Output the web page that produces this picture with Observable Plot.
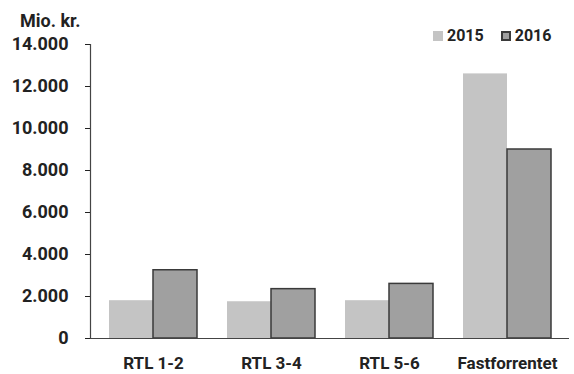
<!DOCTYPE html>
<html>
<head>
<meta charset="utf-8">
<script src="https://cdn.jsdelivr.net/npm/d3@7"></script>
<script src="https://cdn.jsdelivr.net/npm/@observablehq/plot@0.6"></script>
<style>
  html, body { margin: 0; padding: 0; background: #fff; }
  #chart { position: relative; width: 574px; height: 374px; font-family: Roboto, "Noto Sans", sans-serif; }
  #chart svg { display: block; }
  .unit { position: absolute; top: 10px; left: 20px; font-weight: 700; font-size: 18px; color: #222; }
  .legend { position: absolute; top: 26px; left: 433px; display: flex; align-items: center; font-weight: 700; font-size: 16px; color: #222; }
  .legend .item { display: flex; align-items: center; margin-right: 17px; }
  .legend .item:last-child { margin-right: 0; }
  .legend .sw { width: 10px; height: 10px; margin-right: 4px; box-sizing: border-box; }
</style>
</head>
<body>
<div id="chart"></div>
<script>
// Mio. kr. per rentetilpasningsgruppe, 2015 og 2016
const categories = ["RTL 1-2", "RTL 3-4", "RTL 5-6", "Fastforrentet"];
const years = ["2015", "2016"];
const values2015 = [1800, 1750, 1800, 12600];
const values2016 = [3250, 2350, 2600, 9000];
const yTicks = [0, 2000, 4000, 6000, 8000, 10000, 12000, 14000];
const unitLabel = "Mio. kr.";

const fill = {"2015": "#c4c4c4", "2016": "#a0a0a0"};
const stroke = {"2015": "none", "2016": "#3a3a3a"};

const rows = categories.flatMap((c, i) => [
  {category: c, year: "2015", value: values2015[i]},
  {category: c, year: "2016", value: values2016[i]}
]);

const daFormat = d3.formatLocale({decimal: ",", thousands: ".", grouping: [3], currency: ["", " kr."]}).format(",d");

const half = 44; // each bar takes half of the group band

const plot = Plot.plot({
  width: 574,
  height: 374,
  marginLeft: 90,
  marginRight: 5,
  marginTop: 44,
  marginBottom: 36,
  style: {fontFamily: "Roboto, sans-serif", fontSize: "18px", fontWeight: 700, color: "#222", background: "#fff"},
  x: {domain: categories, paddingInner: 0.257, paddingOuter: 0.149, axis: null},
  y: {domain: [0, 14000], axis: null},
  marks: [
    Plot.barY(rows.filter(d => d.year === "2015"), {x: "category", y: "value", fill: fill["2015"], insetRight: half}),
    Plot.barY(rows.filter(d => d.year === "2016"), {x: "category", y: "value", fill: fill["2016"], stroke: stroke["2016"], strokeWidth: 1.5, insetLeft: half}),
    Plot.ruleY([0], {stroke: "#444", strokeWidth: 1.2}),
    Plot.frame({anchor: "left", stroke: "#444", strokeWidth: 1.2}),
    Plot.axisY({ticks: yTicks, tickFormat: daFormat, tickSize: 5, tickPadding: 17, fontSize: 18, fontWeight: 700, label: null}),
    Plot.axisX({tickSize: 0, tickPadding: 18, fontSize: 17, fontWeight: 700, label: null})
  ]
});

const chart = document.getElementById("chart");
chart.appendChild(plot);

// unit label above the y axis
const unit = document.createElement("div");
unit.className = "unit";
unit.textContent = unitLabel;
chart.appendChild(unit);

// legend
const legend = document.createElement("div");
legend.className = "legend";
for (const y of years) {
  const item = document.createElement("span");
  item.className = "item";
  const sw = document.createElement("span");
  sw.className = "sw";
  sw.style.background = fill[y];
  if (stroke[y] !== "none") sw.style.border = `2px solid ${stroke[y]}`;
  item.appendChild(sw);
  item.appendChild(document.createTextNode(y));
  legend.appendChild(item);
}
chart.appendChild(legend);
</script>
</body>
</html>
